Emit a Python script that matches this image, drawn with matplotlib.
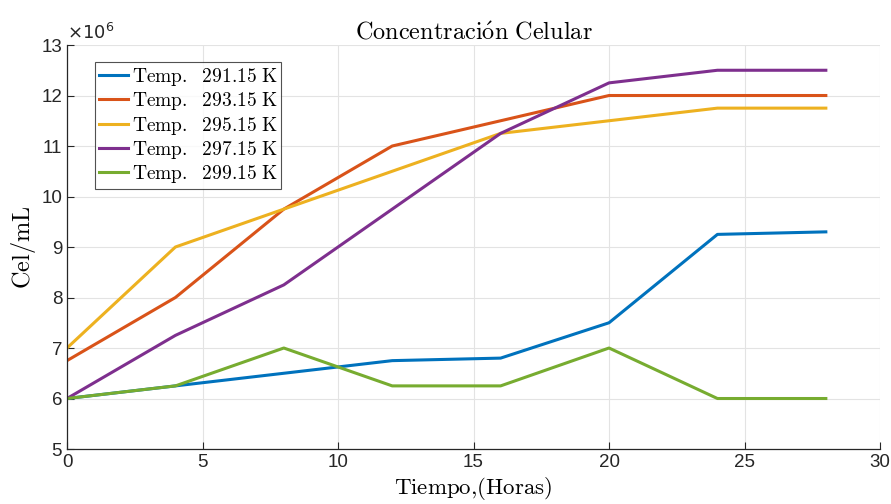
import numpy as np
import matplotlib
matplotlib.use('Agg')
import matplotlib.pyplot as plt

# time in hours
tiempo = [0, 4, 8, 12, 16, 20, 24, 28]
# cell concentration (x 10^6 cel/mL) for each temperature
t291 = [6.0, 6.25, 6.5, 6.75, 6.8, 7.5, 9.25, 9.3]
t293 = [6.75, 8.0, 9.75, 11.0, 11.5, 12.0, 12.0, 12.0]
t295 = [7.0, 9.0, 9.75, 10.5, 11.25, 11.5, 11.75, 11.75]
t297 = [6.0, 7.25, 8.25, 9.75, 11.25, 12.25, 12.5, 12.5]
t299 = [6.0, 6.25, 7.0, 6.25, 6.25, 7.0, 6.0, 6.0]
series = [t291, t293, t295, t297, t299]
etiquetas = ['291.15', '293.15', '295.15', '297.15', '299.15']
colores = ['#0072BD', '#D95319', '#EDB120', '#7E2F8E', '#77AC30']

plt.rcParams['mathtext.fontset'] = 'cm'
plt.rcParams['font.family'] = ['Liberation Sans', 'DejaVu Sans']

fig = plt.figure(figsize=(8.91, 5.04), dpi=100)
ax = fig.add_axes([0.0752, 0.1091, 0.9125, 0.8016])

for vals, lab, c in zip(series, etiquetas, colores):
    ax.plot(tiempo, vals, color=c, linewidth=2.2,
            label=r'$\mathrm{Temp.\ \ ' + lab + r'\ K}$')

ax.set_xlim(0, 30)
ax.set_ylim(5, 13)
ax.set_xticks(np.arange(0, 31, 5))
ax.set_yticks(np.arange(5, 14, 1))
ax.tick_params(direction='in', labelsize=13.5, colors='#262626', length=5)
ax.grid(True, color='#e3e3e3', linewidth=0.8)
for s in ['top', 'right']:
    ax.spines[s].set_visible(False)
for s in ['left', 'bottom']:
    ax.spines[s].set_color('#262626')
    ax.spines[s].set_linewidth(0.9)

# multiplier like matlab
ax.text(0.0, 1.005, r'$\times10^{6}$', transform=ax.transAxes, fontsize=13,
        ha='left', va='bottom', family='DejaVu Sans', color='#262626',
        math_fontfamily='dejavusans')

ax.set_title(r'$\mathrm{Concentraci\acute{o}n\ Celular}$', fontsize=17.5, pad=4)
ax.set_xlabel(r'$\mathrm{Tiempo{,}(Horas)}$', fontsize=16.5, labelpad=3)
ax.set_ylabel(r'$\mathrm{Cel/mL}$', fontsize=17.5, labelpad=2)

leg = ax.legend(loc='upper left', bbox_to_anchor=(0.034, 0.958), fontsize=14,
                frameon=True, fancybox=False, edgecolor='#262626',
                handlelength=1.5, handletextpad=0.2, borderpad=0.2,
                labelspacing=0.12, borderaxespad=0)
leg.get_frame().set_linewidth(0.8)

plt.savefig('out.png', dpi=100)
